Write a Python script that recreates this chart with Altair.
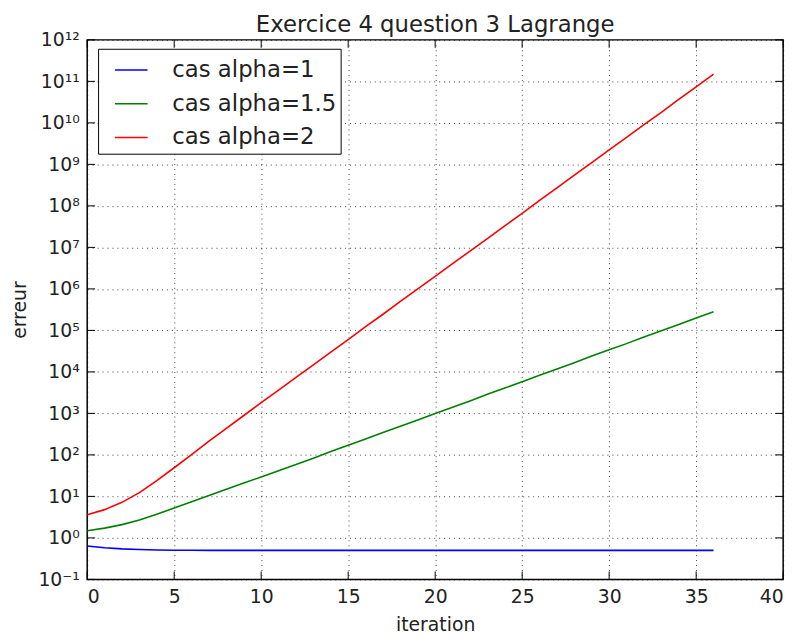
import altair as alt
import pandas as pd

iterations = list(range(37))

alpha1 = [0.64, 0.58, 0.545, 0.525, 0.512, 0.506, 0.503, 0.501, 0.5, 0.5,
          0.5, 0.5, 0.5, 0.5, 0.5, 0.5, 0.5, 0.5, 0.5, 0.5,
          0.5, 0.5, 0.5, 0.5, 0.5, 0.5, 0.5, 0.5, 0.5, 0.5,
          0.5, 0.5, 0.5, 0.5, 0.5, 0.5, 0.5]

alpha15 = [1.49, 1.72, 2.09, 2.69, 3.72, 5.25, 7.41, 10.5, 14.8, 20.9,
           29.5, 41.7, 58.9, 83.2, 120, 170, 240, 347, 490, 692,
           1000, 1410, 2000, 2880, 4070, 5750, 8300, 1.17e4, 1.66e4, 2.4e4,
           3.4e4, 4.8e4, 6.9e4, 9.8e4, 1.38e5, 2.0e5, 2.8e5]

alpha2 = [3.6, 4.8, 7.2, 12.3, 24, 49, 102, 214, 437, 890,
          1820, 3630, 7410, 1.48e4, 3.0e4, 6.0e4, 1.23e5, 2.45e5, 5.0e5, 1.0e6,
          2.0e6, 4.07e6, 8.1e6, 1.62e7, 3.3e7, 6.6e7, 1.35e8, 2.7e8, 5.5e8, 1.1e9,
          2.24e9, 4.5e9, 9.1e9, 1.8e10, 3.7e10, 7.4e10, 1.5e11]

series_names = ["cas alpha=1", "cas alpha=1.5", "cas alpha=2"]
series_colors = ["#0000ff", "#008000", "#ff0000"]
y_ticks = [10.0 ** k for k in range(-1, 13)]
x_ticks = [0, 5, 10, 15, 20, 25, 30, 35, 40]
title_text = "Exercice 4 question 3 Lagrange"

W, H = 703, 545

rows = []
for name, vals in zip(series_names, [alpha1, alpha15, alpha2]):
    for i, v in zip(iterations, vals):
        rows.append({"iteration": i, "erreur": v, "serie": name})
df = pd.DataFrame(rows)
ydf = pd.DataFrame({"erreur": y_ticks})
xdf = pd.DataFrame({"iteration": x_ticks})
tdf = pd.DataFrame({"t": [title_text]})

sup = ("['10⁻¹','10⁰','10¹','10²','10³','10⁴','10⁵','10⁶','10⁷','10⁸','10⁹',"
       "'10¹⁰','10¹¹','10¹²'][round(log(datum.value)/LN10)+1]")

font = "DejaVu Sans"
xscale = alt.Scale(domain=[0, 40], nice=False, zero=False)
yscale = alt.Scale(type="log", domain=[0.1, 1e12], nice=False)
grid_kw = dict(gridColor="#000", gridDash=[1, 4], gridOpacity=0.75, gridWidth=1)

x_axis = alt.Axis(values=x_ticks, title="iteration", format="d",
                  grid=True, ticks=False, domain=False,
                  labelFontSize=19, titleFontSize=19, labelPadding=8,
                  titlePadding=10, labelColor="#222", titleColor="#222",
                  labelFont=font, titleFont=font, titleFontWeight="normal",
                  **grid_kw)
y_axis = alt.Axis(values=y_ticks, title="erreur", labelExpr=sup,
                  grid=True, ticks=False, domain=False,
                  labelFontSize=19, titleFontSize=19, labelPadding=8,
                  titlePadding=9, labelColor="#222", titleColor="#222",
                  labelFont=font, titleFont=font, titleFontWeight="normal",
                  **grid_kw)

lines = alt.Chart(df).mark_line(strokeWidth=1.6, clip=True).encode(
    x=alt.X("iteration:Q", scale=xscale, axis=x_axis),
    y=alt.Y("erreur:Q", scale=yscale, axis=y_axis),
    color=alt.Color("serie:N",
                    scale=alt.Scale(domain=series_names, range=series_colors),
                    sort=series_names,
                    legend=alt.Legend(title=None, orient="none", legendX=11, legendY=9,
                                      symbolType="stroke", symbolSize=1089,
                                      symbolStrokeWidth=1.5, symbolOffset=12,
                                      labelFontSize=23, labelFont=font, labelColor="#222",
                                      labelOffset=24, rowPadding=4, labelLimit=400,
                                      labelExpr="datum.label + '  '",
                                      padding=4, strokeColor="#000", fillColor="#fff",
                                      cornerRadius=0)),
)

tick_len = 8
yt_left = alt.Chart(ydf).mark_rule(color="#000", strokeWidth=1).encode(
    x=alt.value(0), x2=alt.value(tick_len),
    y=alt.Y("erreur:Q", scale=yscale, axis=y_axis))
yt_right = alt.Chart(ydf).mark_rule(color="#000", strokeWidth=1).encode(
    x=alt.value(W - tick_len), x2=alt.value(W),
    y=alt.Y("erreur:Q", scale=yscale, axis=y_axis))
xt_bottom = alt.Chart(xdf).mark_rule(color="#000", strokeWidth=1).encode(
    y=alt.value(H - tick_len), y2=alt.value(H),
    x=alt.X("iteration:Q", scale=xscale, axis=x_axis))
xt_top = alt.Chart(xdf).mark_rule(color="#000", strokeWidth=1).encode(
    y=alt.value(0), y2=alt.value(tick_len),
    x=alt.X("iteration:Q", scale=xscale, axis=x_axis))

title = alt.Chart(tdf).mark_text(font=font, fontSize=23, color="#222",
                                 align="center", baseline="alphabetic").encode(
    x=alt.value(W / 2), y=alt.value(-8), text="t:N")

chart = alt.layer(lines, yt_left, yt_right, xt_bottom, xt_top, title).properties(
    width=W,
    height=H,
    autosize=alt.AutoSizeParams(type="none"),
    padding={"left": 80, "top": 29, "right": 15, "bottom": 57},
).configure_view(stroke="#000", strokeWidth=1.5)

chart.save("out.html", embed_options={"renderer": "svg", "actions": False})
